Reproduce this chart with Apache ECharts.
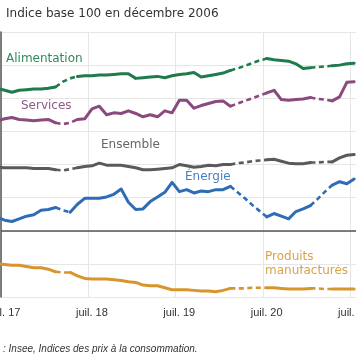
<!DOCTYPE html>
<html><head><meta charset="utf-8">
<script src="https://cdn.jsdelivr.net/npm/echarts@6/dist/echarts.min.js"></script>
<style>html,body{margin:0;padding:0;background:#fff}#c{width:356px;height:364px}</style>
</head><body><div id="c"></div>
<script>
const months = ['2017-06','2017-07','2017-08','2017-09','2017-10','2017-11','2017-12',
'2018-01','2018-02','2018-03','2018-04','2018-05','2018-06','2018-07','2018-08','2018-09','2018-10','2018-11','2018-12',
'2019-01','2019-02','2019-03','2019-04','2019-05','2019-06','2019-07','2019-08','2019-09','2019-10','2019-11','2019-12',
'2020-01','2020-02','2020-03','2020-04','2020-05','2020-06','2020-07','2020-08','2020-09','2020-10','2020-11','2020-12',
'2021-01','2021-02','2021-03','2021-04','2021-05','2021-06','2021-07'];
const firstTickMonth = '2017-07';
const tickLabels = ['juil. 17','juil. 18','juil. 19','juil. 20','juil. 21'];

const alimentation = [121.5,121.2,120.9,121.2,121.3,121.4,121.4,121.5,121.7,122.5,123.0,123.3,123.4,123.4,123.5,123.5,123.6,123.7,123.7,123.0,123.1,123.2,123.3,123.1,123.4,123.6,123.7,123.9,123.2,123.4,123.6,123.8,124.2,124.5,124.9,125.3,125.7,126.0,125.8,125.7,125.6,125.2,124.5,124.6,124.7,124.8,124.9,125.0,125.2,125.3];
const services = [116.6,116.9,117.1,116.8,116.7,116.6,116.7,116.8,116.3,116.1,116.3,116.8,116.9,118.4,118.8,117.5,117.8,117.7,118.1,117.7,117.2,117.5,117.2,118.1,117.8,119.7,119.7,118.5,118.9,119.2,119.5,119.6,118.8,119.2,119.6,120.0,120.4,120.8,121.2,119.8,119.7,119.8,119.9,120.1,119.9,119.8,119.6,120.2,122.4,122.5];
const ensemble = [109.6,109.5,109.5,109.5,109.5,109.4,109.4,109.4,109.2,109.1,109.3,109.5,109.7,109.8,110.2,109.9,109.9,109.9,109.7,109.5,109.2,109.2,109.3,109.4,109.5,110.0,109.8,109.6,109.7,109.9,109.8,110.0,110.0,110.2,110.3,110.5,110.6,110.7,110.8,110.5,110.2,110.1,110.1,110.3,110.3,110.4,110.4,111.0,111.4,111.5];
const energie = [102.0,101.6,101.4,101.8,102.2,102.4,103.1,103.2,103.5,103.1,102.8,104.0,104.9,104.9,104.9,105.1,105.5,106.3,104.3,103.2,103.3,104.4,105.1,105.8,107.3,105.9,106.2,105.7,106.0,105.9,106.2,106.2,106.7,105.8,104.9,103.9,103.0,102.1,102.6,102.2,101.8,102.9,103.3,103.8,104.8,105.9,106.9,107.4,107.1,107.8];
const manufactures = [95.0,94.9,94.8,94.8,94.6,94.4,94.4,94.2,93.8,93.7,93.7,93.2,92.8,92.7,92.7,92.7,92.6,92.5,92.3,92.2,91.8,91.7,91.7,91.4,91.1,91.1,91.1,91.0,90.9,90.9,90.8,91.0,91.3,91.3,91.3,91.4,91.4,91.4,91.4,91.3,91.2,91.2,91.2,91.3,91.3,91.2,91.2,91.2,91.2,91.2];

const dashedLong = [['2018-02','2018-05'],['2020-02','2020-07'],['2021-01','2021-04']];
const dashedShort = [['2018-02','2018-04'],['2020-02','2020-07'],['2021-01','2021-04']];

function monthPos(label){
  const [y,m] = label.split('-').map(Number);
  const [y0,m0] = firstTickMonth.split('-').map(Number);
  return (y-y0)*12 + (m-m0) + 0.5;
}
function build(name, values, color, periods, z){
  const ranges = periods.map(p => [months.indexOf(p[0]), months.indexOf(p[1])]);
  const interior = i => ranges.some(r => i > r[0] && i < r[1]);
  const inside = i => ranges.some(r => i >= r[0] && i <= r[1]);
  const solid = values.map((v,i) => [monthPos(months[i]), interior(i) ? null : v]);
  const dashed = values.map((v,i) => [monthPos(months[i]), inside(i) ? v : null]);
  return [
    {name, type:'line', data:solid, showSymbol:false, symbol:'none', z,
     lineStyle:{color, width:3, cap:'round', join:'round'}, itemStyle:{color}},
    {name:name+' (pointillé)', type:'line', data:dashed, showSymbol:false, symbol:'none', z,
     lineStyle:{color, width:2.6, type:[5,3.5]}, itemStyle:{color}}
  ];
}

const series = [].concat(
  build('Alimentation', alimentation, '#1f7a4c', dashedLong, 3),
  build('Services', services, '#8a4a7e', dashedLong, 3),
  build('Ensemble', ensemble, '#5a5a5a', dashedLong, 3),
  build('Énergie', energie, '#2e6cb6', dashedShort, 3),
  build('Produits manufacturés', manufactures, '#d8952c', dashedShort, 3)
);
series[0].markLine = {silent:true, symbol:['none','none'], label:{show:false},
  lineStyle:{color:'#555', width:1.5, type:'solid'}, data:[{yAxis:100}]};

const chart = echarts.init(document.getElementById('c'), null, {renderer:'canvas'});
chart.setOption({
  animation:false,
  backgroundColor:'#fff',
  grid:{left:1, right:0, top:32, bottom:67, containLabel:false, outerBoundsMode:'none'},
  xAxis:{type:'value', min:0, max:48.76, interval:12,
    axisLine:{show:false}, axisTick:{show:false},
    splitLine:{show:true, lineStyle:{color:'#e6e6e6', width:1}},
    axisLabel:{show:true, showMaxLabel:false, hideOverlap:false, margin:10, padding:[0,0,0,7],
      color:'#333', fontSize:11, fontFamily:'Liberation Sans, Arial, sans-serif',
      formatter: v => { const k = Math.round(v/12); return (Math.abs(v-12*k)<1e-6 && tickLabels[k]) ? tickLabels[k] : ''; }}
  },
  yAxis:{type:'value', min:90, max:130, interval:5,
    axisLabel:{show:false}, axisTick:{show:false},
    axisLine:{show:true, lineStyle:{color:'#555', width:1.5}},
    splitLine:{show:true, lineStyle:{color:'#e6e6e6', width:1}}
  },
  graphic:[
    {type:'text', left:6, top:8, style:{text:'Indice base 100 en décembre 2006', font:'12px "DejaVu Sans"', fill:'#333'}},
    {type:'text', left:6, top:53, style:{text:'Alimentation', font:'12px "DejaVu Sans"', fill:'#2f8a5a'}},
    {type:'text', left:21, top:100, style:{text:'Services', font:'12px "DejaVu Sans"', fill:'#8d5a86'}},
    {type:'text', left:101, top:139, style:{text:'Ensemble', font:'12px "DejaVu Sans"', fill:'#666'}},
    {type:'text', left:185, top:171, style:{text:'Énergie', font:'12px "DejaVu Sans"', fill:'#4a7fc2'}},
    {type:'text', left:265, top:250, style:{text:'Produits\nmanufacturés', font:'12px "DejaVu Sans"', fill:'#d9a24a', lineHeight:14}},
    {type:'text', left:3, top:344, style:{text:': Insee, Indices des prix à la consommation.', font:'italic 10px "Liberation Sans"', fill:'#333'}}
  ],
  series
});
</script></body></html>
